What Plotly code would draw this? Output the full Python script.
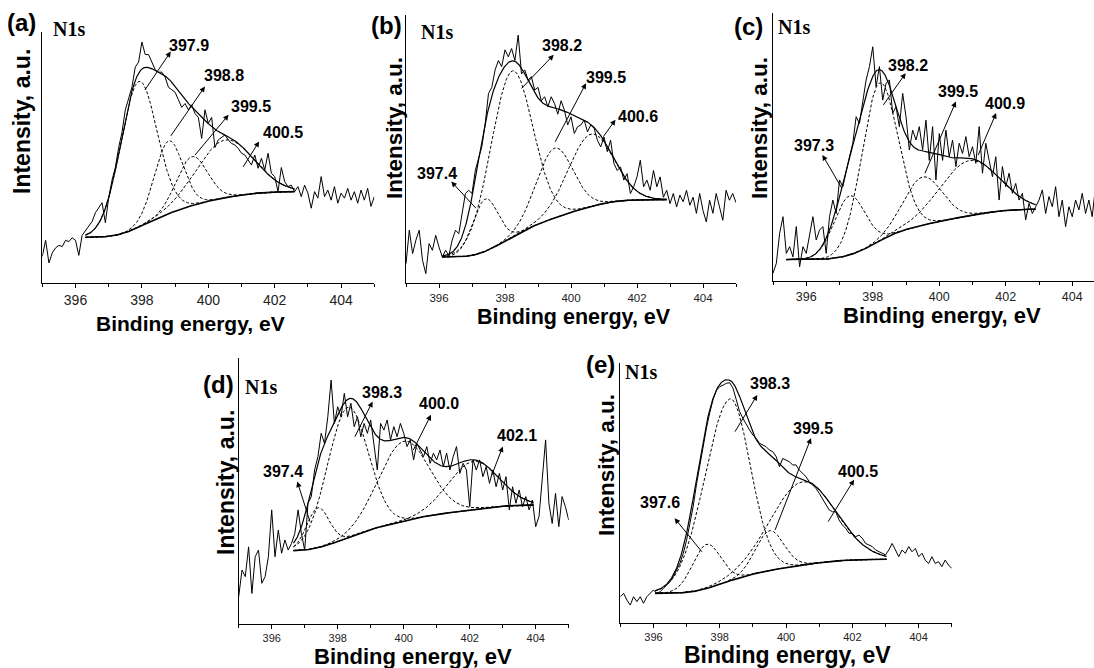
import numpy as np
import plotly.graph_objects as go

W, H = 1094, 668

# ---------------------------------------------------------------------------
# N1s spectra (intensity, a.u.), sampled every 0.1 eV starting at 395.0 eV
# ---------------------------------------------------------------------------
E_START, E_STEP = 395.0, 0.1

counts_a = [
    10.6, 17, 8, 12, 14, 15, 14.5, 17, 16.5, 18,
    17, 11, 19, 21, 22.5, 24.5, 28, 30, 32, 24,
    34, 41, 46, 54, 60, 69, 74, 78, 86, 88,
    96, 91, 91, 88, 85, 84, 84, 82, 78, 77,
    76, 73, 70, 71.5, 69, 71, 67.5, 66, 57.6, 69,
    63.6, 66, 54, 57, 58, 59, 57, 55.6, 55, 53.6,
    51.7, 51, 49, 47, 51, 45.7, 49.7, 45, 51.7, 43.7,
    42.4, 36.4, 46, 40.4, 38.4, 39, 36.4, 38.4, 34.4, 39,
    35.8, 29.8, 36.4, 33.8, 42.4, 34.4, 37, 33, 38.4, 31.8,
    35.8, 33.8, 37.7, 33, 36.4, 31.8, 37, 33, 37.7, 30.5,
    34.4,
]
counts_b = [
    7.2, 19.7, 11, 16, 19.7, 8.5, 3.5, 14.7, 12.2, 17.8,
    13.4, 9.7, 12.2, 10.3, 16, 19.7, 18.4, 26, 33.4, 34.6,
    33.4, 42, 47, 51, 59.5, 70.7, 73, 79.5, 83, 80.7,
    87, 84.4, 87.5, 83, 92.5, 78, 79.5, 75.7, 77, 72,
    73, 68, 69.5, 65.8, 69.5, 67, 63, 68, 64.5, 59,
    62, 55.8, 58.3, 59, 60.8, 56.4, 59, 57.7, 53.3, 50.8,
    54.5, 49, 53.3, 44.6, 42, 43.3, 38.4, 40.8, 33.4, 35.9,
    39.6, 45.8, 35.9, 38.4, 34.6, 42, 35.9, 39.6, 32, 34.6,
    29.6, 33.4, 28.4, 32.8, 30.3, 34.6, 29, 32, 26, 33.4,
    27, 22.8, 30.9, 26, 33.4, 28.4, 23.4, 34.6, 30.9, 33.4,
    30,
]
counts_c = [
    2.9, 6.6, 17.8, 24, 10.3, 12.8, 9, 20.3, 5.3, 12.8,
    10.3, 17.8, 24, 15.3, 19, 20.3, 10.3, 24, 30.2, 25.2,
    37.7, 35.2, 41.4, 46.4, 51.4, 61.3, 58.8, 67.5, 75, 80,
    87.4, 72.5, 80, 67.5, 73.8, 75, 62.6, 65, 57.6, 70,
    61.3, 48.9, 56.3, 52.6, 57.6, 48.9, 60, 45, 57.6, 37.7,
    55, 45, 56.3, 46.4, 52.6, 42.7, 51.4, 47.6, 53.9, 46.4,
    50.1, 43.9, 57.6, 40.2, 51.4, 45, 38.9, 46.4, 30.2, 42.7,
    35.2, 40.2, 32.7, 36.4, 30.2, 32.7, 22.8, 29, 25.2, 27.7,
    30.2, 34, 25.2, 31.5, 27.7, 35.2, 24, 30.2, 20.3, 27.7,
    24, 30.2, 26.5, 32.7, 25.2, 30.2, 24, 35.2,
]
counts_d = [
    10.3, 20.3, 17.8, 29, 11.5, 25.3, 27.8, 15.3, 17.8, 25.3,
    42.9, 25.3, 35.3, 26.6, 31.6, 27.8, 30.3, 34, 42.9, 34,
    27.8, 45.4, 47.9, 57.9, 62.9, 71.7, 67.9, 77.9, 91.7, 75.4,
    81.7, 77.9, 86.7, 77.9, 83, 74.2, 77.9, 70.4, 75.4, 71.7,
    76.7, 67.9, 57.9, 75.4, 72.9, 76.7, 69.2, 74.2, 70.4, 75.4,
    71.7, 66.7, 69.2, 61.7, 67.9, 65.4, 62.9, 66.7, 60.4, 64.2,
    61.7, 65.4, 59.1, 64.2, 57.9, 62.9, 66.7, 56.6, 60.4, 57.9,
    44.1, 61.7, 57.9, 61.7, 55.4, 59.1, 52.9, 57.9, 51.6, 56.6,
    50.4, 55.4, 42.9, 51.6, 45.4, 50.4, 44.1, 47.9, 42.9, 46.6,
    36.6, 40.4, 54.1, 69.2, 45.4, 37.8, 49.1, 36.6, 47.9, 44.1,
    39.1,
]
counts_e = [
    10.1, 11.4, 8.8, 6.9, 10.1, 8.2, 10.1, 7.6, 10.1, 11.4,
    12.7, 11.4, 12, 13.3, 14.6, 15.9, 17.8, 20.4, 23, 26.8,
    31.9, 38.3, 45, 53.5, 61, 68.5, 75, 81, 86, 89.5,
    90.9, 91.5, 92.2, 92.4, 90.3, 85.8, 81.3, 78.7, 76.2, 74.2,
    72.3, 71, 69.1, 68.3, 67.8, 66.5, 65.9, 64, 60.1, 63.3,
    62.7, 62, 60.8, 60.8, 58.8, 57.6, 56.3, 54.4, 53.1, 51.8,
    49.9, 47.9, 46, 43.5, 42.8, 42.8, 39.6, 37.7, 36.4, 34.5,
    34.5, 33.2, 33.8, 32.6, 30.6, 30, 29.4, 28.1, 27.4, 27,
    26.2, 28.1, 30.6, 28.1, 25.5, 28.1, 26.8, 29.4, 27.4, 28.7,
    25.5, 26.8, 24.2, 22.9, 25.5, 22.9, 23.6, 21.7, 24.2, 22.3,
    21,
]

# ---------------------------------------------------------------------------
# Peak fit results: centre (eV), height above background,
# FWHM on the low- and high-binding-energy sides (eV)
# ---------------------------------------------------------------------------
centers_a = [397.9, 398.8, 399.5, 400.5]
heights_a = [58, 29, 19.5, 23]
fwhm_lo_a = [1.3, 1.0, 1.1, 2.0]
fwhm_hi_a = [1.3, 1.0, 1.1, 2.0]

centers_b = [397.4, 398.2, 399.5, 400.6]
heights_b = [19.5, 62, 26, 27]
fwhm_lo_b = [0.9, 1.5, 1.3, 1.6]
fwhm_hi_b = [0.9, 1.5, 1.3, 1.6]

centers_c = [397.3, 398.2, 399.5, 400.9]
heights_c = [22, 59, 18, 20.5]
fwhm_lo_c = [1.1, 1.25, 1.35, 2.1]
fwhm_hi_c = [1.1, 1.3, 1.35, 2.1]

centers_d = [397.4, 398.3, 400.0, 402.1]
heights_d = [15, 49, 30, 18]
fwhm_lo_d = [0.8, 1.45, 1.8, 1.8]
fwhm_hi_d = [0.8, 1.45, 1.8, 1.8]

centers_e = [397.6, 398.3, 399.5, 400.5]
heights_e = [17, 70, 15.3, 32]
fwhm_lo_e = [1.0, 1.8, 1.0, 2.3]
fwhm_hi_e = [1.0, 1.45, 1.0, 2.3]

# Shirley background: fit window (eV) and intensity at its two ends
bg_window_a, bg_ends_a = [396.3, 402.6], [18.2, 36.4]
bg_window_b, bg_ends_b = [396.1, 402.9], [9.7, 31.1]
bg_window_c, bg_ends_c = [395.4, 402.9], [8.0, 26.8]
bg_window_d, bg_ends_d = [396.66, 403.93], [27.6, 44.7]
bg_window_e, bg_ends_e = [396.05, 403.03], [11.4, 24.5]

panel_tags = ["(a)", "(b)", "(c)", "(d)", "(e)"]
line_name = "N1s"
x_title = "Binding energy, eV"
y_title = "Intensity, a.u."


def fit_curves(centers, heights, w_lo, w_hi, window, ends, n=500):
    """Gaussian components on a Shirley background over the fit window."""
    e = np.linspace(window[0], window[1], n)
    comps = []
    for c, h, wl, wh in zip(centers, heights, w_lo, w_hi):
        w = np.where(e < c, wl, wh)
        comps.append(h * np.exp(-4 * np.log(2) * (e - c) ** 2 / w ** 2))
    total = np.sum(comps, axis=0)
    area = np.concatenate([[0.0], np.cumsum(0.5 * (total[1:] + total[:-1]) * np.diff(e))])
    bg = ends[0] + (ends[1] - ends[0]) * area / area[-1]
    return e, bg, comps, bg + total


def px_x(p):
    return p / W


def px_y(p):
    return 1 - p / H


# layout geometry of each panel (pixels) and text styling
panels = [
    dict(counts=counts_a, c=centers_a, h=heights_a, wl=fwhm_lo_a, wh=fwhm_hi_a,
         win=bg_window_a, ends=bg_ends_a,
         x0=42.3, x1=374.3, xmax=405.0, yb=283, yt=32, tick=14,
         tag=(21, 23), name=(69, 29), xt=(190, 324), yt_pos=(22, 122), xts=21, yts=23,
         arrows=[((398.09, 76.9), (398.9, 92.8), (399.42, 94.6)),
                 ((398.87, 58.6), (399.93, 78.9), (400.48, 82.5)),
                 ((399.6, 51.0), (400.65, 67.6), (401.28, 70.5)),
                 ((401.05, 46.3), (401.56, 57.0), (402.25, 60.0))]),
    dict(counts=counts_b, c=centers_b, h=heights_b, wl=fwhm_lo_b, wh=fwhm_hi_b,
         win=bg_window_b, ends=bg_ends_b,
         x0=406, x1=736, xmax=405.0, yb=283, yt=15, tick=11.5,
         tag=(386, 25), name=(437, 32), xt=(574, 317), yt_pos=(395, 128), xts=21.5, yts=22.5,
         arrows=[((397.12, 27.9), (396.33, 38.4), (395.95, 41.0)),
                 ((398.5, 72.6), (399.52, 85.7), (399.74, 88.6)),
                 ((399.52, 52.7), (400.48, 75.1), (401.05, 76.5)),
                 ((400.98, 54.6), (401.38, 61.5), (402.03, 62.0))]),
    dict(counts=counts_c, c=centers_c, h=heights_c, wl=fwhm_lo_c, wh=fwhm_hi_c,
         win=bg_window_c, ends=bg_ends_c,
         x0=773, x1=1105.5, xmax=404.654, yb=281, yt=13, tick=12.5,
         tag=(748, 26), name=(794, 27), xt=(942, 315), yt_pos=(760, 128), xts=22, yts=22.5,
         arrows=[((397.07, 34.6), (396.46, 47.6), (396.23, 50.6)),
                 ((398.32, 65.7), (399.02, 78.1), (399.07, 80.5)),
                 ((399.57, 40.2), (400.52, 67.5), (400.57, 70.8)),
                 ((401.17, 47.0), (401.73, 63.2), (401.98, 66.2))]),
    dict(counts=counts_d, c=centers_d, h=heights_d, wl=fwhm_lo_d, wh=fwhm_hi_d,
         win=bg_window_d, ends=bg_ends_d,
         x0=238.7, x1=568.7, xmax=405.0, yb=624, yt=358, tick=11,
         tag=(218, 384), name=(261, 387), xt=(413, 656), yt_pos=(226, 483), xts=22, yts=23,
         arrows=[((397.16, 38.5), (396.76, 54.1), (396.33, 57.2)),
                 ((398.52, 70.4), (399.08, 84.2), (399.33, 87.2)),
                 ((400.29, 65.4), (400.85, 79.2), (401.07, 82.8)),
                 ((402.67, 56.0), (403.02, 67.3), (403.42, 70.9))]),
    dict(counts=counts_e, c=centers_e, h=heights_e, wl=fwhm_lo_e, wh=fwhm_hi_e,
         win=bg_window_e, ends=bg_ends_e,
         x0=620.3, x1=951.8, xmax=405.0, yb=623, yt=363, tick=11,
         tag=(600, 364), name=(641, 372), xt=(787, 655), yt_pos=(606, 465), xts=23, yts=22.5,
         arrows=[((397.46, 27.4), (396.6, 40.9), (396.2, 46.5)),
                 ((398.46, 73.6), (399.16, 88.3), (399.52, 92.0)),
                 ((399.67, 35.8), (400.77, 71.7), (400.8, 75.0)),
                 ((401.27, 39.0), (402.08, 55.7), (402.16, 58.2))]),
]

SANS = "Liberation Sans, Arial, sans-serif"
SERIF = "Liberation Serif, Times New Roman, serif"

fig = go.Figure()
annotations = []
layout_axes = {}

for k, p in enumerate(panels, start=1):
    xa, ya = f"x{k}", f"y{k}"
    energy = np.round(E_START + E_STEP * np.arange(len(p["counts"])), 2)

    e, bg, comps, envelope = fit_curves(p["c"], p["h"], p["wl"], p["wh"], p["win"], p["ends"])

    # measured spectrum
    fig.add_trace(go.Scatter(x=energy, y=p["counts"], mode="lines",
                             line=dict(color="black", width=1),
                             xaxis=xa, yaxis=ya, showlegend=False, hoverinfo="skip"))
    # individual components (dashed)
    for comp in comps:
        fig.add_trace(go.Scatter(x=e, y=bg + comp, mode="lines",
                                 line=dict(color="black", width=1, dash="3px,2px"),
                                 xaxis=xa, yaxis=ya, showlegend=False, hoverinfo="skip"))
    # background and fitted envelope
    fig.add_trace(go.Scatter(x=e, y=bg, mode="lines", line=dict(color="black", width=1.6),
                             xaxis=xa, yaxis=ya, showlegend=False, hoverinfo="skip"))
    fig.add_trace(go.Scatter(x=e, y=envelope, mode="lines", line=dict(color="black", width=1.2),
                             xaxis=xa, yaxis=ya, showlegend=False, hoverinfo="skip"))

    sfx = "" if k == 1 else str(k)
    x_right = min(p["x1"], W)
    layout_axes[f"xaxis{sfx}"] = dict(
        domain=[px_x(p["x0"]), px_x(x_right)], range=[395, p["xmax"]], anchor=ya,
        showline=True, linecolor="black", linewidth=1, mirror=False,
        ticks="outside", ticklen=4, tickwidth=1, tickcolor="black",
        tick0=396, dtick=2, tickfont=dict(family=SANS, size=p["tick"], color="#222"),
        minor=dict(dtick=1, ticks="outside", ticklen=3, tickcolor="black", showgrid=False),
        showgrid=False, zeroline=False, fixedrange=True,
    )
    layout_axes[f"yaxis{sfx}"] = dict(
        domain=[px_y(p["yb"]), px_y(p["yt"])], range=[0, 100], anchor=xa,
        showline=True, linecolor="black", linewidth=1, ticks="", showticklabels=False,
        showgrid=False, zeroline=False, fixedrange=True,
    )

    # peak labels with arrows pointing away from each component
    for (tail, head, lab), centre in zip(p["arrows"], p["c"]):
        annotations.append(dict(
            x=tail[0], y=tail[1], ax=head[0], ay=head[1],
            xref=xa, yref=ya, axref=xa, ayref=ya, text="", showarrow=True,
            arrowside="start", startarrowhead=2, startarrowsize=1.1, arrowwidth=1,
            arrowcolor="black", standoff=0, startstandoff=0,
        ))
        annotations.append(dict(
            x=lab[0], y=lab[1], xref=xa, yref=ya, text=f"<b>{centre:.1f}</b>",
            showarrow=False, xanchor="center", yanchor="middle",
            font=dict(family=SANS, size=16, color="black"),
        ))

    # panel tag, core level name and axis titles
    annotations.append(dict(x=px_x(p["tag"][0]), y=px_y(p["tag"][1]), xref="paper", yref="paper",
                            text=f"<b>{panel_tags[k - 1]}</b>", showarrow=False,
                            xanchor="center", yanchor="middle",
                            font=dict(family=SANS, size=24, color="black")))
    annotations.append(dict(x=px_x(p["name"][0]), y=px_y(p["name"][1]), xref="paper", yref="paper",
                            text=f"<b>{line_name}</b>", showarrow=False,
                            xanchor="center", yanchor="middle",
                            font=dict(family=SERIF, size=20, color="black")))
    annotations.append(dict(x=px_x(p["xt"][0]), y=px_y(p["xt"][1]), xref="paper", yref="paper",
                            text=f"<b>{x_title}</b>", showarrow=False,
                            xanchor="center", yanchor="middle",
                            font=dict(family=SANS, size=p["xts"], color="black")))
    annotations.append(dict(x=px_x(p["yt_pos"][0]), y=px_y(p["yt_pos"][1]), xref="paper", yref="paper",
                            text=f"<b>{y_title}</b>", showarrow=False, textangle=-90,
                            xanchor="center", yanchor="middle",
                            font=dict(family=SANS, size=p["yts"], color="black")))

fig.update_layout(
    width=W, height=H, margin=dict(l=0, r=0, t=0, b=0),
    paper_bgcolor="white", plot_bgcolor="white",
    annotations=annotations, showlegend=False, **layout_axes,
)

fig.write_html("out.html", config={"displayModeBar": False})
